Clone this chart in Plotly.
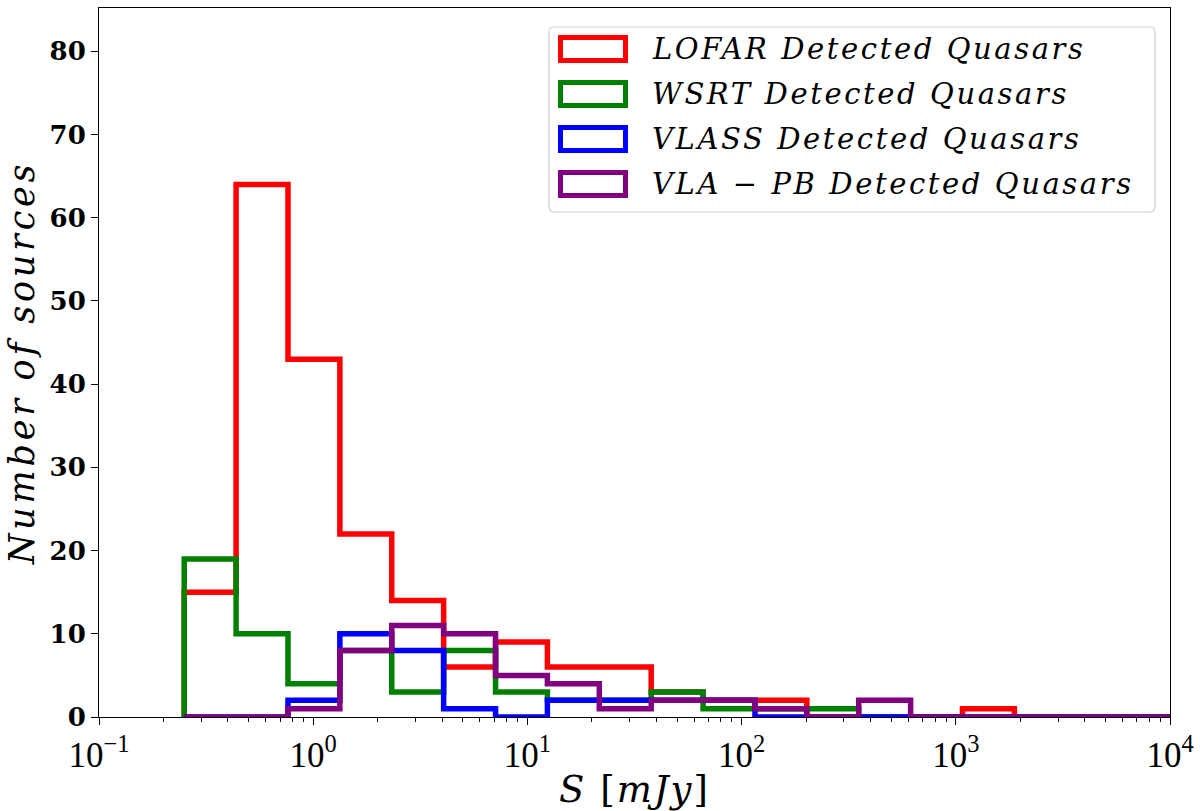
import plotly.graph_objects as go

# --------------------------------------------------------------
#   FLUX DENSITY HISTOGRAMS (log-spaced bins, step outline)
# --------------------------------------------------------------

# bin edges in mJy (19 log bins from 0.25 to 1e4)
bin_edges = [0.25, 0.4366, 0.7625, 1.3317, 2.3263, 4.0646, 7.1012, 12.40, 21.66,
             37.84, 66.11, 115.5, 201.6, 352.2, 615.2, 1074.4, 1876.6, 3278, 5726, 10000]

lofar_counts = [15, 64, 43, 22, 14, 6, 9, 6, 6, 3, 2, 2, 0, 0, 0, 1, 0, 0, 0]
wsrt_counts = [19, 10, 4, 8, 3, 8, 3, 2, 2, 3, 1, 1, 1, 0, 0, 0, 0, 0, 0]
vlass_counts = [0, 0, 2, 10, 8, 1, 0, 2, 2, 2, 2, 0, 0, 0, 0, 0, 0, 0, 0]
vlapb_counts = [0, 0, 1, 8, 11, 10, 5, 4, 1, 2, 2, 1, 0, 2, 0, 0, 0, 0, 0]

labels = ["LOFAR Detected Quasars", "WSRT Detected Quasars",
          "VLASS Detected Quasars", "VLA \u2212 PB Detected Quasars"]
colors = ["#ff0000", "#008000", "#0000ff", "#800080"]

x_tickvals = [0.1, 1, 10, 100, 1000, 10000]
x_ticktext = ["10<sup>\u22121</sup>", "10<sup>0</sup>", "10<sup>1</sup>",
              "10<sup>2</sup>", "10<sup>3</sup>", "10<sup>4</sup>"]
y_tickvals = [0, 10, 20, 30, 40, 50, 60, 70, 80]

minor_vals = [m * d for d in [0.1, 1, 10, 100, 1000] for m in range(2, 10)]

fig = go.Figure()

# step outline: start at the first edge on zero, end at the last edge on zero
for counts, name, col in zip([lofar_counts, wsrt_counts, vlass_counts, vlapb_counts],
                             labels, colors):
    xs = [bin_edges[0]] + bin_edges[:-1] + [bin_edges[-1]]
    ys = [0] + counts + [0]
    fig.add_trace(go.Scatter(
        x=xs, y=ys, mode="lines", name=name,
        line=dict(color=col, width=5.5, shape="hv"),
        showlegend=False, hoverinfo="skip"
    ))

# -------------------------------
# HAND-MADE LEGEND (matplotlib look)
# -------------------------------
L, R, T, B = 99, 1170, 8, 717
def px(x):
    return (x - L) / (R - L)
def py(y):
    return (B - y) / (B - T)

def spaced(txt, sp):
    return '<span style="letter-spacing:%spx">%s</span>' % (sp, txt)

def rounded_box(x0, y0, x1, y1, r):
    # rounded rectangle path in paper coords, corners given in pixels
    a, b, c, d = px(x0), px(x1), py(y1), py(y0)   # left, right, bottom, top
    rx, ry = r / (R - L), r / (B - T)
    return ("M %f,%f L %f,%f Q %f,%f %f,%f L %f,%f Q %f,%f %f,%f "
            "L %f,%f Q %f,%f %f,%f L %f,%f Q %f,%f %f,%f Z" % (
                a + rx, d, b - rx, d, b, d, b, d - ry, b, c + ry, b, c, b - rx, c,
                a + rx, c, a, c, a, c + ry, a, d - ry, a, d, a + rx, d))

shapes = [dict(type="path", xref="paper", yref="paper",
               path=rounded_box(549, 27, 1155, 212, 5),
               line=dict(color="#d0d0d0", width=1.2), fillcolor="rgba(255,255,255,0.85)",
               layer="above")]
annotations = []
row_y = [49, 94, 139, 184]
for yc, name, col in zip(row_y, labels, colors):
    shapes.append(dict(type="rect", xref="paper", yref="paper",
                       x0=px(560.5), x1=px(625.5), y0=py(yc + 11.5), y1=py(yc - 11.5),
                       line=dict(color=col, width=5), fillcolor="white", layer="above"))
    annotations.append(dict(xref="paper", yref="paper", x=px(650), y=py(yc),
                            xanchor="left", yanchor="middle", showarrow=False,
                            text="<i>" + spaced(name, 2.6) + "</i>",
                            font=dict(family="DejaVu Serif", size=29, color="black")))

fig.update_layout(
    width=1200, height=811,
    margin=dict(l=L, r=1200 - R, t=T, b=811 - B, autoexpand=False),
    plot_bgcolor="white", paper_bgcolor="white",
    shapes=shapes, annotations=annotations,
    showlegend=False,
)

fig.update_xaxes(
    type="log", range=[-1, 4], automargin=False,
    tickvals=x_tickvals, ticktext=x_ticktext,
    tickfont=dict(family="Liberation Serif", size=35, color="black"),
    ticks="outside", ticklen=7, tickwidth=1, tickcolor="black",
    minor=dict(tickvals=minor_vals, ticks="outside", ticklen=4, tickcolor="black", tickwidth=0.8),
    showgrid=False, zeroline=False,
    showline=True, linecolor="black", linewidth=1, mirror=True,
    title=dict(text=spaced("<i>S</i> [<i>mJy</i>]", 2),
               font=dict(family="DejaVu Serif", size=37, color="black"), standoff=4),
)
fig.update_yaxes(
    range=[0, 85.2], automargin=False,
    tickvals=y_tickvals,
    tickfont=dict(family="DejaVu Serif", size=26, color="black", weight="bold"),
    ticks="outside", ticklen=7, tickwidth=1, tickcolor="black",
    showgrid=False, zeroline=False,
    showline=True, linecolor="black", linewidth=1, mirror=True,
    title=dict(text="<i>" + spaced("Number of sources", 3.8) + "</i>",
               font=dict(family="DejaVu Serif", size=35, color="black"), standoff=4),
)

# remove the browser's default body margin so the figure sits at (0, 0)
fig.write_html("out.html", config={"displayModeBar": False},
               post_script="document.body.style.margin='0px';")
